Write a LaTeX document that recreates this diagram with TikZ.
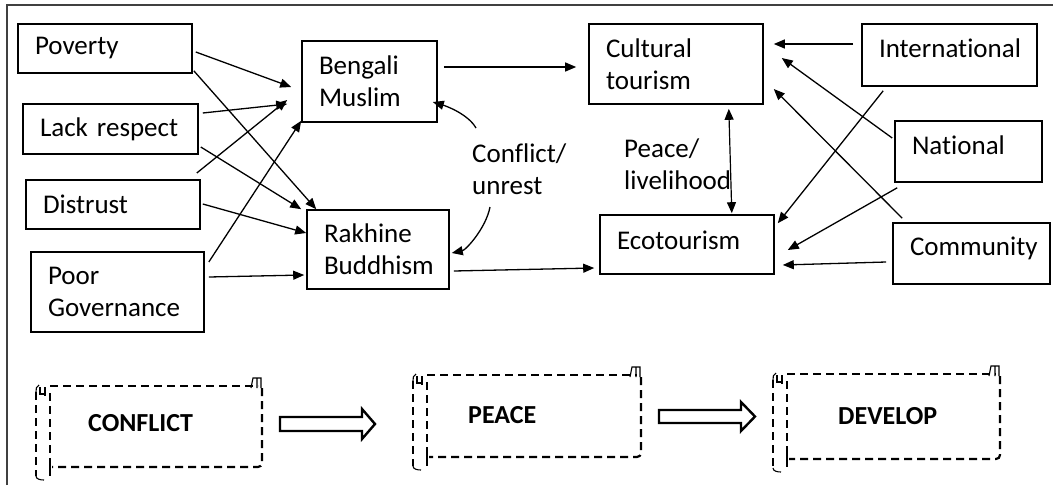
\documentclass[tikz,border=0pt]{standalone}
\usepackage{fontspec}
\setmainfont{Carlito}[Ligatures={NoCommon}]
\usetikzlibrary{arrows.meta}
\newcommand\myscroll[6]{% L M R T B SB
  \draw[dsh] (#2,#4) -- (#3-4,#4);
  \draw[dsh, rounded corners=4pt] (#3,#4+2) -- (#3,#5) -- (#2+2,#5);
  \draw[dsh] (#2,#4+7) -- (#2,#6-4);
  \draw[dsh] (#1,#4+6) -- (#1,#6-4);
  \draw[thin line] (#1+3,#4-1) .. controls (#1,#4) and (#1,#4+3) .. (#1,#4+6);
  \draw[thin line] (#1,#6-4) .. controls (#1,#6-1) and (#1+4,#6) .. (#1+8,#6);
  \draw[thin line] (#2-10,#4+1) -- (#2-10,#4+8) -- (#2-5,#4+8) (#2-5,#4+1) -- (#2-5,#4+10);
  \draw[thin line] (#3-11,#4+2) -- (#3-9,#4-8) -- (#3-1,#4-8) -- (#3-1,#4+2) (#3-5,#4-8) -- (#3-5,#4+2);
  \draw[thin line] (#2,#5-5) -- (#2,#5+4);
}
\begin{document}
\begin{tikzpicture}[x=1pt,y=-1pt,
  box/.style={draw, line width=1.6pt, inner xsep=0pt, inner ysep=0pt, align=left,
    font=\fontsize{27}{32}\selectfont},
  arr/.style={-{Triangle[length=11pt,width=9pt]}, line width=1.3pt},
  dbl/.style={{Triangle[length=11pt,width=9pt]}-{Triangle[length=11pt,width=9pt]}, line width=1.2pt},
  lbl/.style={align=left, inner sep=0pt, font=\fontsize{27}{32}\selectfont},
  dsh/.style={line width=2.2pt, dash pattern=on 8pt off 5pt},
  thin line/.style={line width=1.1pt},
  bigtxt/.style={font=\bfseries\fontsize{26}{30}\selectfont, inner sep=0pt},
  fat/.style={line width=2.4pt, line join=miter}
]
\useasboundingbox (0,0) rectangle (1053,485);
\draw[line width=1.4pt, black!75] (7,485) -- (7,5) -- (1053,5);

% left causes
\node[box, minimum width=174pt, minimum height=49pt, text width=140pt] (pov) at (105,48.5) {Poverty};
\node[box, minimum width=175pt, minimum height=50pt, text width=141pt] (lack) at (110.5,129) {\mbox{Lack respect}};
\node[box, minimum width=174pt, minimum height=49pt, text width=140pt] (dis) at (113,204.5) {Distrust};
\node[box, minimum width=173pt, minimum height=80pt, text width=139pt] (gov) at (117.5,292) {Poor\\\mbox{Governance}};

% middle
\node[box, minimum width=135pt, minimum height=81pt, text width=101pt] (ben) at (369.5,81.5) {Bengali\\Muslim};
\node[box, minimum width=142pt, minimum height=79pt, text width=108pt] (rak) at (378,249.5) {Rakhine\\\mbox{Buddhism}};
\node[box, minimum width=174pt, minimum height=80pt, text width=140pt] (cul) at (676,64) {Cultural\\tourism};
\node[box, minimum width=174pt, minimum height=59pt, text width=140pt] (eco) at (687,244.5) {\raisebox{4pt}[\height][\depth]{Ecotourism}};

% right actors
\node[box, minimum width=175pt, minimum height=62pt, text width=141pt] (int) at (949.5,55) {\raisebox{7pt}[\height][\depth]{International}};
\node[box, minimum width=147pt, minimum height=61pt, text width=113pt] (nat) at (968.5,151.5) {\raisebox{6pt}[\height][\depth]{National}};
\node[box, minimum width=157pt, minimum height=61pt, text width=123pt] (com) at (971.5,253.5) {\raisebox{5pt}[\height][\depth]{Community}};

% labels
\node[lbl, anchor=north west] (cu) at (472,144) {Conflict/\\unrest};
\node[lbl, anchor=north west] (pl) at (624,139) {Peace/\\livelihood};

% left arrows
\draw[arr] ([shift={(3,3.5)}]pov.east) -- ([shift={(-10,5.5)}]ben.west);
\draw[arr] ([shift={(1,-3)}]pov.south east) -- ([shift={(10,0)}]rak.north west);
\draw[arr] ([shift={(4,-16)}]lack.east) -- ([shift={(-14,22.5)}]ben.west);
\draw[arr] ([shift={(2,18)}]lack.east) -- ([shift={(-5,0)}]rak.north west);
\draw[arr] ([shift={(-4,-31.5)}]dis.east) -- ([shift={(-14,18.5)}]ben.west);
\draw[arr] ([shift={(2,-0.5)}]dis.east) -- ([shift={(0,-16.5)}]rak.west);
\draw[arr] ([shift={(4,-30)}]gov.east) -- ([shift={(0,-2)}]ben.south west);
\draw[arr] ([shift={(4,-15)}]gov.east) -- ([shift={(-2,25.5)}]rak.west);

% middle arrows
\draw[arr] ([shift={(6,-14.5)}]ben.east) -- ([shift={(-12,3)}]cul.west);
\draw[arr] ([shift={(4,21.5)}]rak.east) -- ([shift={(-5,23.5)}]eco.west);
\draw[arr] ([shift={(4,-16)}]cu.north west) .. controls (468,114) and (446,106) .. ([shift={(-5,20.5)}]ben.east);
\draw[arr] ([shift={(18,63)}]cu.north west) .. controls (486,228) and (466,250) .. ([shift={(2,3.5)}]rak.east);
\draw[dbl] ([shift={(-35,4)}]cul.south east) -- ([shift={(-43,-1)}]eco.north east);

% right arrows
\draw[arr] ([shift={(-8,-11)}]int.west) -- ([shift={(10,-20)}]cul.east);
\draw[arr] ([shift={(-2,-13.5)}]nat.west) -- ([shift={(18,-6)}]cul.east);
\draw[arr] ([shift={(10,-4)}]com.north west) -- ([shift={(10,25)}]cul.east);
\draw[arr] ([shift={(22,4)}]int.south west) -- ([shift={(3,9)}]eco.north east);
\draw[arr] ([shift={(3,5)}]nat.south west) -- ([shift={(13,5.5)}]eco.east);
\draw[arr] ([shift={(-6,8.5)}]com.west) -- ([shift={(8,20.5)}]eco.east);

% bottom scrolls
\myscroll{36}{50}{262}{386}{467}{480}
\myscroll{413}{427}{641}{375}{457}{470}
\myscroll{773}{787}{1000}{374}{459}{472}
\node[bigtxt, anchor=west] (conf) at (88,423) {CONFLICT};
\node[bigtxt, anchor=west] (peace) at (468,415) {PEACE};
\node[bigtxt, anchor=west] (dev) at (838,416) {DEVELOP};

% fat arrows
\draw[fat] (280,417) -- (362,417) -- (362,409) -- (375,424) -- (362,439) -- (362,431) -- (280,431) -- cycle;
\draw[fat] (659,410) -- (741,410) -- (741,402) -- (755,416.5) -- (741,431) -- (741,423) -- (659,423) -- cycle;
\end{tikzpicture}
\end{document}
